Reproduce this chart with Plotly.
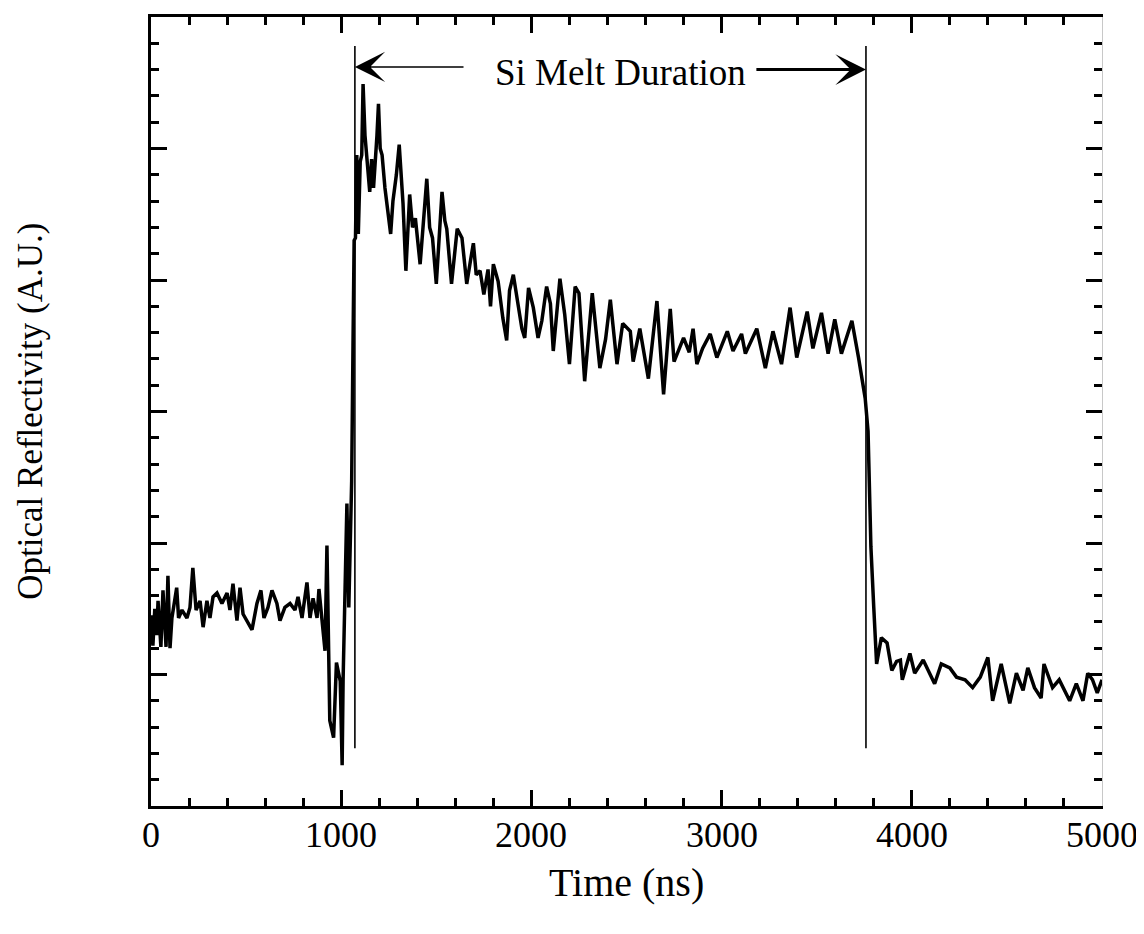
import plotly.graph_objects as go

# ---- data (time in ns, reflectivity in arbitrary units) ----
time_ns = [0, 10, 20, 30, 37, 52, 63, 79, 89, 100, 110, 135, 145, 163, 189, 205, 220, 237, 258, 274,
           294, 310, 326, 347, 373, 400, 415, 431, 452, 468, 484, 505, 531, 557, 578, 594, 615, 636, 662, 678,
           704, 731, 757, 773, 794, 820, 836, 852, 873, 883, 899, 915, 925, 940, 960, 975, 995, 1005, 1010, 1020,
           1030, 1040, 1050, 1055, 1062, 1068, 1075, 1082, 1090, 1100, 1108, 1115, 1125, 1135, 1150, 1160, 1170, 1188, 1196, 1205,
           1215, 1230, 1246, 1260, 1272, 1290, 1305, 1325, 1340, 1360, 1375, 1390, 1415, 1435, 1450, 1465, 1480, 1500, 1515, 1530,
           1545, 1555, 1580, 1610, 1635, 1660, 1680, 1695, 1710, 1730, 1750, 1772, 1785, 1800, 1825, 1850, 1870, 1885, 1905, 1930,
           1950, 1965, 1985, 2010, 2035, 2055, 2080, 2100, 2115, 2150, 2175, 2200, 2230, 2250, 2280, 2320, 2340, 2360, 2390, 2415,
           2450, 2480, 2520, 2535, 2570, 2615, 2660, 2695, 2730, 2750, 2800, 2830, 2850, 2870, 2900, 2940, 2975, 3030, 3060, 3105,
           3125, 3185, 3230, 3270, 3315, 3360, 3395, 3450, 3480, 3525, 3560, 3595, 3630, 3685, 3720, 3740, 3755, 3770, 3785, 3800,
           3805, 3815, 3840, 3870, 3895, 3920, 3940, 3950, 3990, 4015, 4060, 4085, 4120, 4155, 4200, 4235, 4280, 4320, 4360, 4400,
           4425, 4470, 4515, 4550, 4585, 4610, 4645, 4680, 4695, 4740, 4775, 4830, 4865, 4900, 4925, 4950, 4975, 5000]

reflectivity = [1.45, 1.22, 1.50, 1.30, 1.56, 1.21, 1.64, 1.21, 1.75, 1.20, 1.43, 1.66, 1.43, 1.49, 1.43, 1.51, 1.81, 1.49, 1.56, 1.36,
                1.56, 1.43, 1.59, 1.62, 1.54, 1.62, 1.49, 1.69, 1.41, 1.66, 1.46, 1.41, 1.34, 1.54, 1.64, 1.43, 1.51, 1.64, 1.54, 1.41,
                1.51, 1.54, 1.49, 1.59, 1.43, 1.70, 1.43, 1.58, 1.43, 1.65, 1.41, 1.18, 1.98, 0.65, 0.52, 1.09, 0.95, 0.31, 0.96, 1.60,
                2.30, 1.51, 2.10, 2.47, 3.50, 4.30, 4.32, 4.95, 4.35, 4.90, 4.95, 5.49, 5.10, 4.95, 4.67, 4.92, 4.70, 5.10, 5.34, 5.00,
                4.95, 4.70, 4.50, 4.35, 4.60, 4.80, 5.03, 4.58, 4.07, 4.65, 4.40, 4.47, 4.12, 4.50, 4.77, 4.40, 4.32, 3.97, 4.30, 4.67,
                4.45, 4.39, 3.97, 4.39, 4.32, 3.97, 4.15, 4.28, 4.04, 4.07, 3.89, 4.08, 3.80, 4.12, 3.99, 3.71, 3.54, 3.92, 4.04, 3.79,
                3.63, 3.56, 3.94, 3.79, 3.56, 3.69, 3.95, 3.82, 3.46, 4.01, 3.74, 3.36, 3.95, 3.90, 3.23, 3.90, 3.60, 3.33, 3.55, 3.85,
                3.36, 3.67, 3.61, 3.38, 3.63, 3.25, 3.84, 3.13, 3.78, 3.38, 3.56, 3.45, 3.63, 3.36, 3.48, 3.59, 3.41, 3.61, 3.46, 3.59,
                3.44, 3.63, 3.33, 3.61, 3.36, 3.79, 3.41, 3.76, 3.48, 3.75, 3.44, 3.70, 3.44, 3.69, 3.41, 3.23, 3.10, 2.85, 1.97, 1.51,
                1.31, 1.08, 1.28, 1.24, 1.03, 1.10, 1.11, 0.96, 1.16, 1.01, 1.11, 1.03, 0.93, 1.08, 1.05, 0.98, 0.96, 0.90, 0.98, 1.13,
                0.80, 1.08, 0.78, 1.01, 0.88, 1.05, 0.90, 0.82, 1.08, 0.90, 0.96, 0.80, 0.93, 0.80, 1.01, 0.96, 0.86, 0.96]

x_tick_values = [0, 1000, 2000, 3000, 4000, 5000]
x_tick_labels = ["0", "1000", "2000", "3000", "4000", "5000"]

melt_start = 1072
melt_end = 3759
marker_bottom = 0.44
marker_top = 5.78
left_arrow_tail = 1651
right_arrow_tail = 3175
left_arrow_level = 5.62
right_arrow_level = 5.60
label_time = 2466
label_level = 5.58
label_text = "Si Melt Duration"

FONT = "Liberation Serif, Times New Roman, serif"

fig = go.Figure()
fig.add_trace(go.Scatter(x=time_ns, y=reflectivity, mode="lines",
                         line=dict(color="black", width=3.5), showlegend=False, hoverinfo="skip"))
# invisible trace to anchor the right-hand axis
fig.add_trace(go.Scatter(x=[0], y=[0], yaxis="y2", mode="markers",
                         marker=dict(opacity=0), showlegend=False, hoverinfo="skip"))

for t in (melt_start, melt_end):
    fig.add_shape(type="line", xref="x", yref="y", x0=t, x1=t, y0=marker_bottom, y1=marker_top,
                  line=dict(color="black", width=1.6))

fig.add_annotation(x=melt_start, y=left_arrow_level, ax=left_arrow_tail, ay=left_arrow_level,
                   xref="x", yref="y", axref="x", ayref="y", text="", showarrow=True,
                   arrowhead=3, arrowsize=3.6, arrowwidth=1.4, arrowcolor="black", standoff=0)
fig.add_annotation(x=melt_end, y=right_arrow_level, ax=right_arrow_tail, ay=right_arrow_level,
                   xref="x", yref="y", axref="x", ayref="y", text="", showarrow=True,
                   arrowhead=3, arrowsize=1.7, arrowwidth=3, arrowcolor="black", standoff=0)
fig.add_annotation(x=label_time, y=label_level, xref="x", yref="y", text=label_text,
                   showarrow=False, font=dict(family=FONT, size=37, color="black"))

# x tick labels drawn from the tick lists
for v, lab in zip(x_tick_values, x_tick_labels):
    fig.add_annotation(x=v, y=-0.037, xref="x", yref="paper", text=lab, showarrow=False,
                       xanchor="center", yanchor="middle",
                       font=dict(family=FONT, size=36, color="black"))

fig.add_annotation(x=0.5, y=-0.097, xref="paper", yref="paper", text="Time (ns)",
                   showarrow=False, font=dict(family=FONT, size=40, color="black"),
                   xanchor="center", yanchor="middle")
fig.add_annotation(x=-0.127, y=0.5, xref="paper", yref="paper", text="Optical Reflectivity (A.U.)",
                   showarrow=False, textangle=-90, font=dict(family=FONT, size=35, color="black"),
                   xanchor="center", yanchor="middle")

fig.update_layout(
    width=1136, height=926,
    margin=dict(l=143, r=42, t=6, b=128),
    paper_bgcolor="white", plot_bgcolor="white",
    font=dict(family=FONT, size=34, color="black"),
    xaxis=dict(range=[0, 5000], tickvals=x_tick_values, showticklabels=False,
               showgrid=False, zeroline=False, showline=True, linecolor="black", linewidth=3,
               mirror="ticks", ticks="inside", ticklen=16, tickwidth=2.5, tickcolor="black",
               minor=dict(dtick=200, ticks="inside", ticklen=8, tickwidth=2.5, tickcolor="black", showgrid=False)),
    yaxis=dict(range=[0, 6], dtick=1, showticklabels=False,
               showgrid=False, zeroline=False, showline=True, linecolor="black", linewidth=3,
               ticks="inside", ticklen=16, tickwidth=2.5, tickcolor="black",
               minor=dict(dtick=0.2, ticks="inside", ticklen=8, tickwidth=2.5, tickcolor="black", showgrid=False)),
    yaxis2=dict(range=[0, 6], dtick=1, overlaying="y", side="right", showticklabels=False,
                showgrid=False, zeroline=False, showline=True, linecolor="#c8c8c8", linewidth=1,
                ticks="inside", ticklen=16, tickwidth=2.5, tickcolor="black",
                minor=dict(dtick=0.2, ticks="inside", ticklen=8, tickwidth=2.5, tickcolor="black", showgrid=False)),
)

fig.write_html("out.html")
